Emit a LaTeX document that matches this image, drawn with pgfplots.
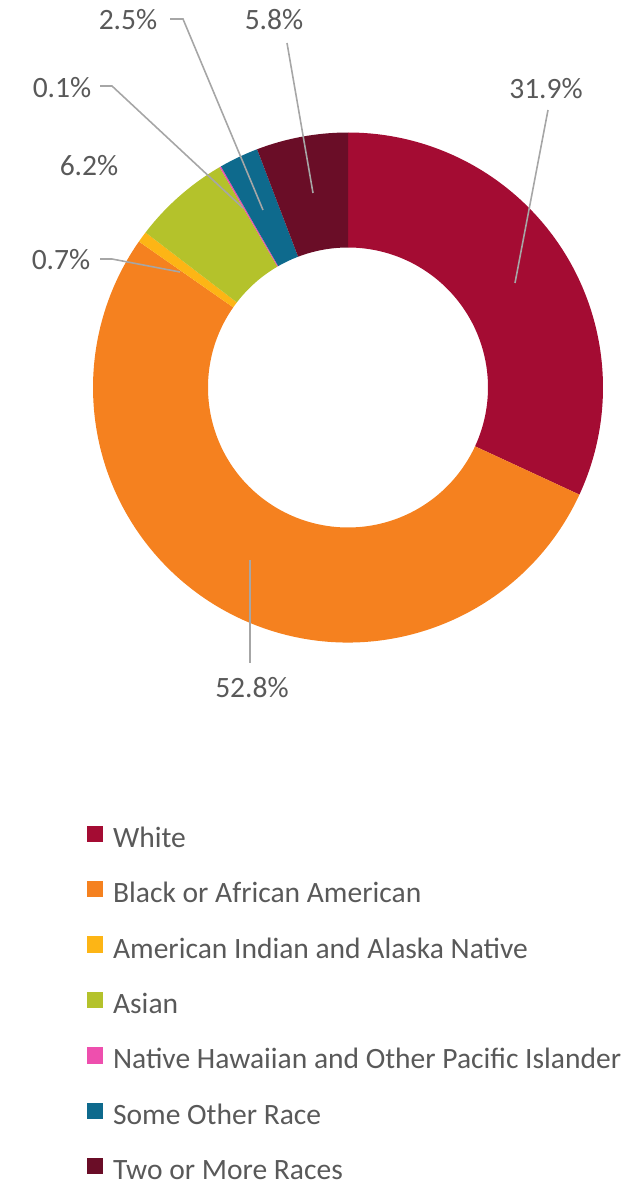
\documentclass[border=0pt]{standalone}
\usepackage{fontspec}
\setmainfont{Carlito}
\usepackage{pgfplots}
\usepackage{pgfplotstable}
\pgfplotsset{compat=1.18}
\definecolor{slice0}{HTML}{A40C33}
\definecolor{slice1}{HTML}{F5811F}
\definecolor{slice2}{HTML}{FDB515}
\definecolor{slice3}{HTML}{B4C22B}
\definecolor{slice4}{HTML}{EE4FAE}
\definecolor{slice5}{HTML}{0E6A8D}
\definecolor{slice6}{HTML}{6A0D27}
\definecolor{textgray}{HTML}{595959}
\definecolor{leadgray}{HTML}{A6A6A6}
\newcommand\lblfont{\fontsize{8.4pt}{10pt}\selectfont}
\begin{document}
\pgfplotstableread[col sep=comma]{
race,value
White,31.9
Black or African American,52.8
American Indian and Alaska Native,0.7
Asian,6.2
Native Hawaiian and Other Pacific Islander,0.1
Some Other Race,2.5
Two or More Races,5.8
}\racedata
\gdef\curang{90}%
\foreach \i in {0,...,6}{%
  \pgfplotstablegetelem{\i}{value}\of\racedata
  \pgfmathsetmacro\endang{\curang-3.6*\pgfplotsretval}%
  \expandafter\xdef\csname angS\i\endcsname{\curang}%
  \expandafter\xdef\csname angE\i\endcsname{\endang}%
  \xdef\curang{\endang}%
}%
\begin{tikzpicture}
\begin{axis}[
  x=1cm, y=1cm,
  xmin=0, xmax=6.22, ymin=0, ymax=11.88,
  hide axis, clip=false,
  legend cell align=left,
  legend style={at={(0.13826,0.30572)}, anchor=north west, draw=none, fill=none,
    inner sep=0pt, row sep=0.277cm, column sep=0.10cm,
    font=\lblfont, text=textgray,
    nodes={inner sep=0pt, text height=0.20cm, text depth=0.06cm}},
]
\pgfplotsinvokeforeach{0,...,6}{%
  \edef\temp{\noexpand\fill[slice#1] (axis cs:3.48,8.005) ++(\csname angS#1\endcsname:2.55cm)
    arc[start angle=\csname angS#1\endcsname, end angle=\csname angE#1\endcsname, radius=2.55cm]
    -- ++(\csname angE#1\endcsname+180:1.15cm)
    arc[start angle=\csname angE#1\endcsname, end angle=\csname angS#1\endcsname, radius=1.40cm]
    -- cycle;}%
  \temp
}
\addlegendimage{legend image code/.code={\fill[slice0] (0cm,-0.01cm) rectangle (0.15cm,0.14cm);}}
\addlegendentry{White}
\addlegendimage{legend image code/.code={\fill[slice1] (0cm,-0.01cm) rectangle (0.15cm,0.14cm);}}
\addlegendentry{Black or African American}
\addlegendimage{legend image code/.code={\fill[slice2] (0cm,-0.01cm) rectangle (0.15cm,0.14cm);}}
\addlegendentry{American Indian and Alaska Native}
\addlegendimage{legend image code/.code={\fill[slice3] (0cm,-0.01cm) rectangle (0.15cm,0.14cm);}}
\addlegendentry{Asian}
\addlegendimage{legend image code/.code={\fill[slice4] (0cm,-0.01cm) rectangle (0.15cm,0.14cm);}}
\addlegendentry{Native Hawaiian and Other Pacific Islander}
\addlegendimage{legend image code/.code={\fill[slice5] (0cm,-0.01cm) rectangle (0.15cm,0.14cm);}}
\addlegendentry{Some Other Race}
\addlegendimage{legend image code/.code={\fill[slice6] (0cm,-0.01cm) rectangle (0.15cm,0.14cm);}}
\addlegendentry{Two or More Races}
% leader lines
\draw[leadgray, line width=0.45pt] (axis cs:5.48,10.78) -- (axis cs:5.15,9.05);
\draw[leadgray, line width=0.45pt] (axis cs:2.87,11.45) -- (axis cs:3.13,9.95);
\draw[leadgray, line width=0.45pt] (axis cs:1.70,11.69) -- (axis cs:1.83,11.69) -- (axis cs:2.63,9.78);
\draw[leadgray, line width=0.45pt] (axis cs:1.00,11.02) -- (axis cs:1.12,11.02) -- (axis cs:2.43,9.80);
\draw[leadgray, line width=0.45pt] (axis cs:1.00,9.29) -- (axis cs:1.12,9.29) -- (axis cs:1.80,9.16);
\draw[leadgray, line width=0.45pt] (axis cs:2.50,6.28) -- (axis cs:2.50,5.25);
% labels
\node[font=\lblfont, text=textgray] at (axis cs:5.46,10.99) {31.9\%};
\node[font=\lblfont, text=textgray] at (axis cs:2.74,11.68) {5.8\%};
\node[font=\lblfont, text=textgray] at (axis cs:1.28,11.68) {2.5\%};
\node[font=\lblfont, text=textgray] at (axis cs:0.62,11.00) {0.1\%};
\node[font=\lblfont, text=textgray] at (axis cs:0.89,10.22) {6.2\%};
\node[font=\lblfont, text=textgray] at (axis cs:0.61,9.28) {0.7\%};
\node[font=\lblfont, text=textgray] at (axis cs:2.52,5.00) {52.8\%};
\coordinate (bbSW) at (axis cs:0,0);
\coordinate (bbNE) at (axis cs:6.22,11.88);
\end{axis}
\pgfresetboundingbox
\path[use as bounding box] (bbSW) rectangle (bbNE);
\end{tikzpicture}
\end{document}
